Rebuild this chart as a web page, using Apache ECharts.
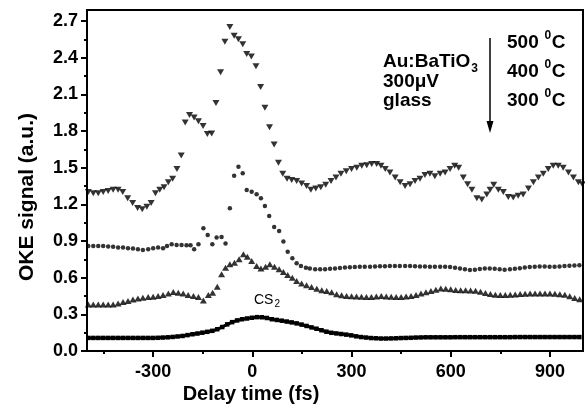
<!DOCTYPE html>
<html>
<head>
<meta charset="utf-8">
<script src="https://cdn.jsdelivr.net/npm/echarts@6/dist/echarts.min.js"></script>
<style>
html,body{margin:0;padding:0;background:#fff;}
#chart{width:585px;height:409px;}
</style>
</head>
<body>
<div id="chart"></div>
<script>
// ---- data ----
const t500 = [-496,-481,-466,-451,-436,-421,-406,-392,-377,-362,-347,-333,-319,-306,-293,-280,-267,-254,-241,-228,-215,-203,-190,-176,-163,-149,-136,-123,-110,-96,-83,-68,-55,-42,-29,-17,-3,11,25,38,52,66,79,92,105,119,134,149,164,177,192,207,222,238,253,268,284,300,316,331,346,361,376,389,402,416,432,447,462,477,492,507,522,537,552,568,583,598,612,624,638,651,664,679,694,709,719,730,744,759,774,789,804,819,835,850,865,880,895,910,925,940,956,971,986,998];
const v500 = [1.30,1.29,1.29,1.30,1.31,1.32,1.32,1.30,1.25,1.21,1.17,1.16,1.18,1.21,1.29,1.32,1.34,1.38,1.41,1.49,1.60,1.87,1.93,1.91,1.88,1.84,1.775,1.78,2.03,2.28,2.53,2.65,2.58,2.55,2.51,2.43,2.41,2.33,2.16,1.99,1.83,1.69,1.54,1.45,1.41,1.40,1.39,1.37,1.35,1.32,1.33,1.34,1.36,1.39,1.42,1.45,1.47,1.49,1.50,1.515,1.52,1.53,1.53,1.515,1.49,1.46,1.42,1.38,1.35,1.365,1.39,1.41,1.44,1.45,1.43,1.45,1.46,1.49,1.515,1.50,1.42,1.365,1.32,1.25,1.24,1.28,1.32,1.36,1.32,1.30,1.26,1.255,1.27,1.28,1.33,1.38,1.42,1.45,1.49,1.515,1.515,1.50,1.46,1.42,1.38,1.365];

const t400 = [-496,-481,-466,-451,-436,-421,-406,-391,-376,-361,-346,-331,-315,-300,-285,-270,-258,-244,-229,-214,-199,-187,-176,-163,-148,-135,-121,-108,-93,-81,-68,-55,-42,-29,-17,-2,13,26,38,51,66,81,94,107,121,134,147,162,174,190,205,220,235,250,265,280,295,310,325,340,356,371,386,401,416,431,446,462,477,492,507,522,537,552,568,583,598,613,628,643,658,673,688,703,718,733,748,763,779,794,809,824,839,854,869,884,899,914,929,944,959,974,989];
const v400 = [0.859,0.859,0.859,0.859,0.854,0.852,0.846,0.846,0.840,0.838,0.832,0.826,0.832,0.840,0.846,0.840,0.859,0.873,0.867,0.867,0.865,0.865,0.832,0.873,1.004,0.949,0.873,0.928,0.933,0.879,1.168,1.433,1.507,1.455,1.318,1.302,1.283,1.25,1.187,1.105,1.015,0.982,0.895,0.813,0.758,0.717,0.695,0.682,0.674,0.668,0.668,0.668,0.672,0.675,0.680,0.683,0.686,0.688,0.689,0.690,0.690,0.692,0.693,0.694,0.695,0.695,0.695,0.695,0.695,0.693,0.692,0.692,0.690,0.690,0.690,0.690,0.688,0.682,0.676,0.668,0.663,0.665,0.670,0.675,0.676,0.672,0.668,0.665,0.668,0.672,0.678,0.684,0.688,0.690,0.692,0.692,0.690,0.690,0.692,0.695,0.698,0.700,0.701];

const t300 = [-496,-481,-466,-451,-436,-421,-406,-391,-376,-361,-346,-331,-315,-300,-285,-270,-254,-239,-224,-209,-194,-178,-163,-148,-133,-120,-106,-93,-81,-68,-54,-40,-27,-15,-2,13,26,40,53,67,81,94,107,121,134,149,164,179,195,210,225,240,255,270,285,300,315,330,345,360,375,390,405,420,435,450,465,480,495,510,525,540,555,570,585,600,615,630,645,660,675,690,705,720,735,750,765,780,795,810,825,840,855,870,885,900,915,930,945,960,975,990];
const v300 = [0.381,0.381,0.381,0.381,0.381,0.381,0.389,0.400,0.410,0.422,0.430,0.436,0.441,0.444,0.449,0.458,0.471,0.482,0.477,0.471,0.458,0.449,0.441,0.414,0.458,0.477,0.526,0.627,0.682,0.710,0.723,0.750,0.791,0.772,0.737,0.695,0.676,0.690,0.710,0.690,0.668,0.646,0.622,0.600,0.573,0.553,0.537,0.523,0.510,0.498,0.490,0.480,0.465,0.456,0.451,0.448,0.446,0.444,0.442,0.441,0.445,0.449,0.446,0.444,0.442,0.441,0.445,0.450,0.459,0.470,0.481,0.491,0.501,0.512,0.510,0.505,0.500,0.498,0.497,0.496,0.493,0.485,0.474,0.466,0.460,0.458,0.458,0.460,0.463,0.466,0.468,0.470,0.471,0.471,0.471,0.470,0.468,0.465,0.460,0.448,0.434,0.424];

const tCS2 = [-496,-481,-466,-451,-436,-421,-406,-391,-376,-361,-346,-331,-316,-301,-286,-271,-256,-241,-226,-211,-196,-181,-166,-151,-136,-121,-106,-91,-76,-61,-46,-31,-16,-1,14,29,44,59,74,89,104,119,134,149,164,179,194,209,224,239,254,269,284,299,314,329,344,359,374,389,404,419,434,449,464,479,494,509,524,539,554,569,584,599,614,629,644,659,674,689,704,719,734,749,764,779,794,809,824,839,854,869,884,899,914,929,944,959,974,989];
const vCS2 = [0.107,0.107,0.107,0.107,0.107,0.107,0.107,0.107,0.107,0.107,0.107,0.107,0.107,0.107,0.108,0.110,0.112,0.115,0.119,0.123,0.130,0.137,0.143,0.150,0.157,0.165,0.178,0.196,0.218,0.236,0.250,0.260,0.266,0.272,0.277,0.276,0.270,0.260,0.254,0.248,0.241,0.234,0.226,0.216,0.205,0.193,0.182,0.170,0.158,0.149,0.144,0.139,0.134,0.128,0.120,0.114,0.110,0.106,0.104,0.102,0.102,0.103,0.104,0.106,0.107,0.108,0.110,0.111,0.112,0.112,0.112,0.112,0.112,0.112,0.113,0.113,0.113,0.113,0.113,0.113,0.113,0.113,0.113,0.113,0.113,0.113,0.114,0.114,0.114,0.114,0.114,0.114,0.114,0.114,0.114,0.114,0.114,0.114,0.114,0.114];

const xMajorTicks = [-300, 0, 300, 600, 900];
const xMinorTicks = [-450, -150, 150, 450, 750];
const yMajorTicks = [0, 0.3, 0.6, 0.9, 1.2, 1.5, 1.8, 2.1, 2.4, 2.7];
const yMinorTicks = [0.15, 0.45, 0.75, 1.05, 1.35, 1.65, 1.95, 2.25, 2.55];

const xTitle = 'Delay time (fs)';
const yTitle = 'OKE signal (a.u.)';

// ---- helpers ----
function pairs(t, v) { return t.map((x, i) => [x, v[i]]); }
const FONT = '"Liberation Sans", Arial, sans-serif';
const mctx = document.createElement('canvas').getContext('2d');
function tw(text, size, weight) {
  mctx.font = (weight || 'normal') + ' ' + size + 'px ' + FONT;
  return mctx.measureText(text).width;
}
function txt(x, y, text, size, opts) {
  opts = opts || {};
  return {
    type: 'text', x: x, y: y, rotation: opts.rotation || 0, z: 100,
    style: {
      text: text, fill: '#000', font: (opts.weight || 'normal') + ' ' + size + 'px ' + FONT,
      textAlign: opts.align || 'left', textVerticalAlign: 'middle',
      align: opts.align || 'left', verticalAlign: 'middle'
    }
  };
}

const chart = echarts.init(document.getElementById('chart'), null, { renderer: 'canvas' });

const LAB = 19;      // annotation font size
const W = 'bold';
const graphics = [];
// Au:BaTiO3 block
const x0 = 383;
graphics.push(txt(x0, 62, 'Au:BaTiO', LAB, { weight: W }));
graphics.push(txt(x0 + tw('Au:BaTiO', LAB, W) + 1, 69, '3', 12, { weight: W }));
graphics.push(txt(x0, 81.5, '300\u03bcV', LAB, { weight: W }));
graphics.push(txt(x0, 101, 'glass', LAB, { weight: W }));
// temperatures
[['500', 43], ['400', 72], ['300', 101]].forEach(function (p) {
  const xs = 507;
  const w1 = tw(p[0] + ' ', LAB, W);
  graphics.push(txt(xs, p[1], p[0], LAB, { weight: W }));
  graphics.push(txt(xs + w1 + 0.5, p[1] - 7, '0', 12, { weight: W }));
  graphics.push(txt(xs + w1 + 0.5 + tw('0', 12, W) + 0.5, p[1], 'C', LAB, { weight: W }));
});
// arrow
graphics.push({ type: 'line', z: 100, shape: { x1: 490, y1: 38, x2: 490, y2: 124 }, style: { stroke: '#000', lineWidth: 1.5 } });
graphics.push({ type: 'polygon', z: 100, shape: { points: [[486.5, 121], [493.5, 121], [490, 133]] }, style: { fill: '#000' } });
// CS2 label
graphics.push(txt(254, 300, 'CS', 14));
graphics.push(txt(254 + tw('CS', 14) + 1, 304, '2', 10));
// axis titles
graphics.push(txt(251, 394, xTitle, 20, { align: 'center', weight: 'bold' }));
graphics.push(txt(27, 197, yTitle, 21, { align: 'center', weight: 'bold', rotation: Math.PI / 2 }));

const axisLabelStyle = { color: '#000', fontSize: 18, fontWeight: 'bold', fontFamily: FONT };

chart.setOption({
  animation: false,
  backgroundColor: '#fff',
  grid: { left: 87, right: 2, top: 10, bottom: 58, show: true, borderColor: '#000', borderWidth: 2, backgroundColor: 'transparent' },
  xAxis: [
    {
      type: 'value', min: -500, max: 1000, position: 'bottom',
      axisLine: { show: true, onZero: false, lineStyle: { color: '#000', width: 2 } },
      axisTick: { show: true, inside: false, length: 6, lineStyle: { color: '#000', width: 2 }, customValues: xMajorTicks },
      axisLabel: Object.assign({ margin: 12, customValues: xMajorTicks, formatter: function (v) { return String(v); } }, axisLabelStyle),
      splitLine: { show: false }
    },
    {
      type: 'value', min: -500, max: 1000, position: 'bottom', offset: 0,
      axisLine: { show: false, onZero: false },
      axisTick: { show: true, inside: false, length: 3, lineStyle: { color: '#000', width: 2 }, customValues: xMinorTicks },
      axisLabel: { show: false },
      splitLine: { show: false }
    }
  ],
  yAxis: [
    {
      type: 'value', min: 0, max: 2.79, position: 'left',
      axisLine: { show: true, onZero: false, lineStyle: { color: '#000', width: 2 } },
      axisTick: { show: true, inside: false, length: 6, lineStyle: { color: '#000', width: 2 }, customValues: yMajorTicks },
      axisLabel: Object.assign({ margin: 9, customValues: yMajorTicks, formatter: function (v) { return v.toFixed(1); } }, axisLabelStyle),
      splitLine: { show: false }
    },
    {
      type: 'value', min: 0, max: 2.79, position: 'left', offset: 0,
      axisLine: { show: false, onZero: false },
      axisTick: { show: true, inside: false, length: 3, lineStyle: { color: '#000', width: 2 }, customValues: yMinorTicks },
      axisLabel: { show: false },
      splitLine: { show: false }
    }
  ],
  series: [
    {
      name: '500', type: 'scatter', xAxisIndex: 0, yAxisIndex: 0,
      data: pairs(t500, v500), symbol: 'triangle', symbolRotate: 180, symbolSize: [7, 6],
      itemStyle: { color: '#000' }
    },
    {
      name: '400', type: 'scatter', xAxisIndex: 0, yAxisIndex: 0,
      data: pairs(t400, v400), symbol: 'circle', symbolSize: 4.5,
      itemStyle: { color: '#000' }
    },
    {
      name: '300', type: 'scatter', xAxisIndex: 0, yAxisIndex: 0,
      data: pairs(t300, v300), symbol: 'triangle', symbolSize: [7, 6],
      itemStyle: { color: '#000' }
    },
    {
      name: 'CS2', type: 'line', xAxisIndex: 0, yAxisIndex: 0,
      data: pairs(tCS2, vCS2), symbol: 'rect', symbolSize: 4.5, showAllSymbol: true,
      lineStyle: { color: '#000', width: 3 }, itemStyle: { color: '#000' }
    }
  ],
  graphic: graphics
});
</script>
</body>
</html>
